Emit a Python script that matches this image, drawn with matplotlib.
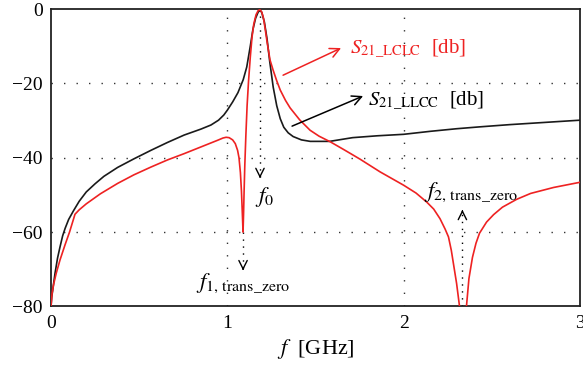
import matplotlib
matplotlib.use("Agg")
import matplotlib.pyplot as plt

plt.rcParams['font.family'] = 'serif'
plt.rcParams['font.serif'] = ['Liberation Serif', 'DejaVu Serif']
plt.rcParams['mathtext.fontset'] = 'stix'
plt.rcParams['axes.unicode_minus'] = True

# ---- data ----
freq_llcc = [0.0, 0.004, 0.01, 0.023, 0.037, 0.051, 0.066, 0.08, 0.1, 0.127, 0.16, 0.2,
             0.25, 0.3, 0.378, 0.47, 0.567, 0.66, 0.755, 0.85, 0.907, 0.95, 0.98, 1.0,
             1.03, 1.06, 1.09, 1.11, 1.13, 1.145, 1.16, 1.175, 1.185, 1.195, 1.21,
             1.225, 1.24, 1.26, 1.28, 1.30, 1.32, 1.345, 1.373, 1.42, 1.47, 1.58,
             1.71, 1.85, 2.0, 2.15, 2.3, 2.43, 2.6, 2.8, 3.0]
s21_llcc = [-80, -77.5, -75.5, -71, -67, -64, -61, -59, -56.6, -54.3, -51.7, -49.2,
            -47, -45, -42.6, -40.3, -38, -35.9, -33.9, -32.3, -31.2, -29.9, -28.5, -27.2,
            -25, -22.5, -19, -15.6, -10, -5.5, -2.5, -0.8, -0.4, -0.9, -3.5,
            -8, -14, -21, -26, -29.5, -31.8, -33.3, -34.3, -35.2, -35.6, -35.6,
            -34.6, -34.1, -33.7, -32.9, -32.2, -31.7, -31.1, -30.5, -29.9]

freq_lclc = [0.0, 0.006, 0.015, 0.03, 0.051, 0.079, 0.105, 0.136, 0.16, 0.2, 0.28,
             0.378, 0.47, 0.567, 0.66, 0.755, 0.85, 0.945, 0.975, 0.993, 1.01, 1.03,
             1.045, 1.058, 1.066, 1.074, 1.08, 1.085, 1.089, 1.092, 1.095, 1.099, 1.105,
             1.112, 1.12, 1.13, 1.14, 1.15, 1.163, 1.175, 1.185, 1.195, 1.205, 1.215,
             1.225, 1.242, 1.26, 1.28, 1.30, 1.33, 1.356, 1.41, 1.469, 1.52, 1.583,
             1.66, 1.753, 1.866, 2.0, 2.07, 2.13, 2.17, 2.206, 2.235, 2.254, 2.27, 2.30,
             2.318, 2.336, 2.355, 2.37, 2.39, 2.41, 2.43, 2.47, 2.51, 2.56, 2.64, 2.72,
             2.85, 3.0]
s21_lclc = [-80, -76.5, -74, -71, -67.5, -63.5, -60, -55.2, -54, -52.4, -49.7,
            -46.9, -44.6, -42.5, -40.6, -38.9, -37.1, -35.3, -34.7, -34.5, -34.6, -35.2,
            -36.2, -38, -40, -44, -49, -55, -60, -55, -49, -42, -34,
            -26, -19.5, -13, -7.5, -4, -1.5, -0.4, -0.2, -0.8, -2.5, -5.5,
            -8.8, -13.7, -16.5, -19.3, -21.8, -24.6, -26.6, -29.8, -32.6, -34.2, -35.7,
            -37.8, -40.4, -43.8, -47.4, -49.5, -51.9, -53.8, -56.4, -59.2, -61.3, -64.9, -73.8,
            -80.5, -100, -80.5, -72.5, -66.8, -63, -60.3, -57.3, -55.3, -53.3, -51.2, -49.6,
            -48.0, -46.6]

x_ticks = [0, 1, 2, 3]
y_ticks = [0, -20, -40, -60, -80]

f0 = 1.185
f1 = 1.089
f2 = 2.333

fig = plt.figure(figsize=(5.83, 3.76), dpi=100)
ax = fig.add_axes([0.0875, 0.185, 0.9074, 0.791])

ax.plot(freq_llcc, s21_llcc, color='#1a1a1a', lw=1.2, zorder=3)
ax.plot(freq_lclc, s21_lclc, color='#ee2222', lw=1.2, zorder=3)

ax.set_xlim(0, 3)
ax.set_ylim(-80, 0)
ax.set_xticks(x_ticks)
ax.set_yticks(y_ticks)
ax.tick_params(length=0, labelsize=14, pad=6)
for s in ax.spines.values():
    s.set_linewidth(1.3)
    s.set_color('#222222')

dot = (0, (1, 8))
for xv in [1, 2]:
    ax.axvline(xv, color='#333333', lw=1.0, linestyle=dot, zorder=1)
for yv in [-20, -40, -60]:
    ax.axhline(yv, color='#333333', lw=1.0, linestyle=dot, zorder=1)

ax.set_xlabel(r'$f$  [GHz]', fontsize=16, labelpad=4)

# marker arrows
def dotted_arrow(x, y0, y1):
    ax.plot([x, x], [y0, y1], color='black', lw=1.0, linestyle=(0, (1, 4)), zorder=2)
    d = 0.5 if y1 < y0 else -0.5
    ax.annotate('', xy=(x, y1), xytext=(x, y1 + d),
                arrowprops=dict(arrowstyle='->', lw=1.0, color='black',
                                mutation_scale=15, shrinkA=0, shrinkB=0))

dotted_arrow(f0, 0, -45.5)
dotted_arrow(f1, -60, -70.3)
dotted_arrow(f2, -80, -54)

ax.text(1.214, -50.6, r'$f_0$', fontsize=16.5, ha='center', va='center')
ax.text(1.092, -73.8, r'$f_{1,\,\mathrm{trans\_zero}}$', fontsize=16.5, ha='center', va='center')
ax.text(2.385, -49.3, r'$f_{2,\,\mathrm{trans\_zero}}$', fontsize=16.5, ha='center', va='center')

ax.annotate('', xy=(1.645, -10.5), xytext=(1.316, -17.8),
            arrowprops=dict(arrowstyle='->', lw=1.1, color='#ee2222',
                            mutation_scale=17, shrinkA=0, shrinkB=0))
ax.text(1.696, -10.5, r'$S_{21\_\mathrm{LCLC}}$  [db]', fontsize=15, color='#ee2222',
        ha='left', va='center')

ax.annotate('', xy=(1.77, -23.4), xytext=(1.367, -31.5),
            arrowprops=dict(arrowstyle='->', lw=1.1, color='black',
                            mutation_scale=17, shrinkA=0, shrinkB=0))
ax.text(1.798, -24.5, r'$S_{21\_\mathrm{LLCC}}$  [db]', fontsize=15, color='black',
        ha='left', va='center')

fig.savefig('out.png', dpi=100)
